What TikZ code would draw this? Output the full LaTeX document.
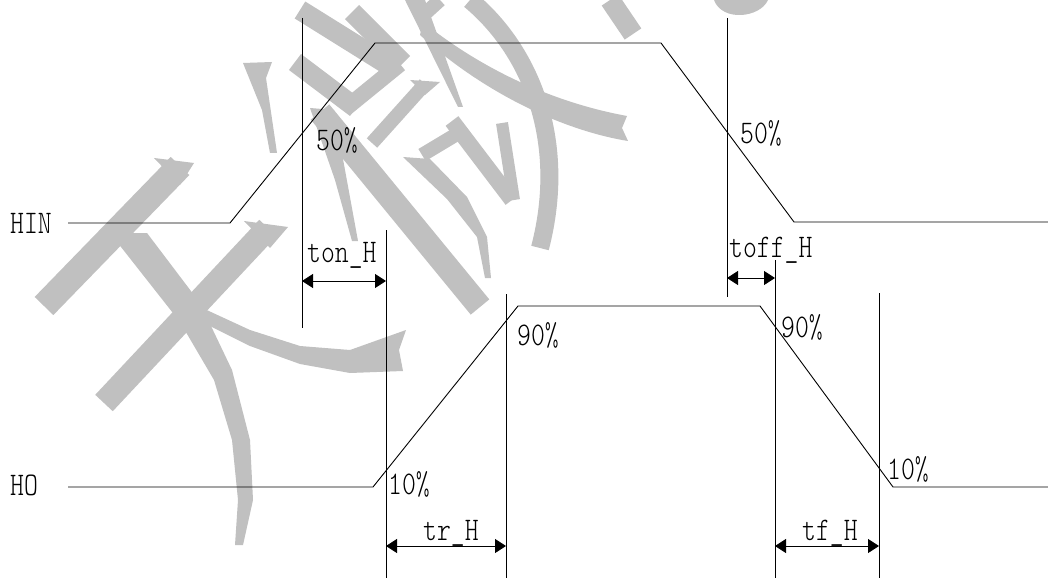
\documentclass[tikz,border=0pt]{standalone}
\usepackage{fontspec}
\usetikzlibrary{arrows.meta}
\newfontfamily\lblfont{lmmonolt10-regular.otf}[FakeStretch=0.8]
\definecolor{wmc}{RGB}{192,192,192}
\begin{document}
\begin{tikzpicture}[x=1pt,y=-1pt,
  wm/.style={draw=wmc, line cap=butt, line join=round},
  sig/.style={draw=black, line width=0.9pt, line join=miter},
  guide/.style={draw=black, line width=0.9pt},
  dimarrow/.style={line width=0.9pt, {Triangle[length=11pt,width=14pt]}-{Triangle[length=11pt,width=14pt]}},
  lbl/.style={font=\fontsize{33}{33}\selectfont\lblfont, inner sep=0pt, anchor=base west}]
\useasboundingbox (0,0) rectangle (1048,580);
\fill[white] (0,0) rectangle (1048,580);
% ---------- watermark ----------
\draw[wm, line width=26] (180,166) -- (44,306);
\fill[wmc] (154,158) -- (194,163) -- (180,185) -- cycle;
\draw[wm, line width=24] (268,228) -- (104,403);
\fill[wmc] (244,221) -- (288,227) -- (270,248) -- cycle;
\fill[wmc] (110,233) -- (147,233) -- (200,303) -- (232,370) -- (250,440) -- (253,500) -- (243,545) -- (235,545) -- (238,500) -- (232,440) -- (214,380) -- (180,322) -- cycle;
\fill[wmc] (198,306) -- (250,330) -- (300,346) -- (350,350) -- (406,330) -- (399,350) -- (403,371) -- (350,373) -- (300,364) -- (250,346) -- (194,318) -- cycle;
\fill[wmc] (243,63) -- (272,62) -- (266,78) -- (277,153) -- (270,153) -- (262,110) -- cycle;
\draw[wm, line width=20] (300,10) -- (393,68);
\draw[wm, line width=20] (352,12) -- (403,63);
\draw[wm, line width=20] (295,62) -- (356,108);
\draw[wm, line width=16] (400,64) -- (346,108);
\draw[wm, line width=14] (425,84) -- (372,143);
\fill[wmc] (410,80) -- (440,82) -- (425,95) -- cycle;
\draw[wm, line width=24] (320,112) -- (480,307);
\fill[wmc] (310,108) -- (334,110) -- (345,170) -- (358,241) -- (352,241) -- (335,180) -- cycle;
\fill[wmc] (403,157) -- (430,159) -- (467,197) -- (487,237) -- (491,278) -- (485,278) -- (477,237) -- (447,199) -- cycle;
\draw[wm, line width=14] (422,155) -- (462,131);
\draw[wm, line width=16] (452,121) -- (512,200);
\draw[wm, line width=12] (502,123) -- (514,200);
\draw[wm, line width=18] (470,0) .. controls (530,50) and (568,140) .. (540,248);
\fill[wmc] (423,22) .. controls (470,60) and (540,100) .. (627,116) -- (622,128) -- (628,141) .. controls (560,130) and (480,90) .. (420,35) -- cycle;
\fill[wmc] (405,0) -- (425,0) -- (463,107) -- (458,107) -- cycle;
\draw[wm, line width=14] (440,0) -- (418,20);
\draw[wm, line width=20] (610,0) -- (633,34);
\fill[wmc] (714,0) .. controls (722,22) and (760,18) .. (768,0) -- cycle;
% ---------- coordinates ----------
\coordinate (hin0) at (68,223);
\coordinate (hin1) at (230,223);
\coordinate (hin2) at (375,43);
\coordinate (hin3) at (661,43);
\coordinate (hin4) at (794,222);
\coordinate (hin5) at (1048,222);
\coordinate (ho0) at (68,487);
\coordinate (ho1) at (373,487);
\coordinate (ho2) at (518,306);
\coordinate (ho3) at (760,306);
\coordinate (ho4) at (893,487);
\coordinate (ho5) at (1048,487);
\coordinate (v1t) at (302,18);  \coordinate (v1b) at (302,328);
\coordinate (v2t) at (386,230); \coordinate (v2b) at (386,578);
\coordinate (v3t) at (727,18);  \coordinate (v3b) at (727,297);
\coordinate (v4t) at (775,260); \coordinate (v4b) at (775,578);
\coordinate (v5t) at (506,294); \coordinate (v5b) at (506,578);
\coordinate (v6t) at (879,293); \coordinate (v6b) at (879,578);
\coordinate (a1l) at (302,281); \coordinate (a1r) at (386,281);
\coordinate (a2l) at (727,278); \coordinate (a2r) at (775,278);
\coordinate (a3l) at (386,546); \coordinate (a3r) at (506,546);
\coordinate (a4l) at (775,546); \coordinate (a4r) at (879,546);
% ---------- signals ----------
\draw[sig] (hin0) -- (hin1) -- (hin2) -- (hin3) -- (hin4) -- (hin5);
\draw[sig] (ho0) -- (ho1) -- (ho2) -- (ho3) -- (ho4) -- (ho5);
% ---------- guides ----------
\draw[guide] (v1t) -- (v1b);
\draw[guide] (v2t) -- (v2b);
\draw[guide] (v3t) -- (v3b);
\draw[guide] (v4t) -- (v4b);
\draw[guide] (v5t) -- (v5b);
\draw[guide] (v6t) -- (v6b);
% ---------- dimension arrows ----------
\draw[dimarrow] (a1l) -- (a1r);
\draw[dimarrow] (a2l) -- (a2r);
\draw[dimarrow] (a3l) -- (a3r);
\draw[dimarrow] (a4l) -- (a4r);
% ---------- labels ----------
\node[lbl] (hin) at (10,233) {HIN};
\node[lbl] (ho) at (10,495) {HO};
\node[lbl] (p50a) at (316,150) {50\%};
\node[lbl] (p50b) at (740,144) {50\%};
\node[lbl] (ton) at (307,262) {ton\_H};
\node[lbl] (toff) at (729,257) {toff\_H};
\node[lbl] (p90a) at (517,345) {90\%};
\node[lbl] (p90b) at (781,337) {90\%};
\node[lbl] (p10a) at (388,494) {10\%};
\node[lbl] (p10b) at (887,479) {10\%};
\node[lbl] (tr) at (423,540) {tr\_H};
\node[lbl] (tf) at (802,540) {tf\_H};
\end{tikzpicture}
\end{document}
